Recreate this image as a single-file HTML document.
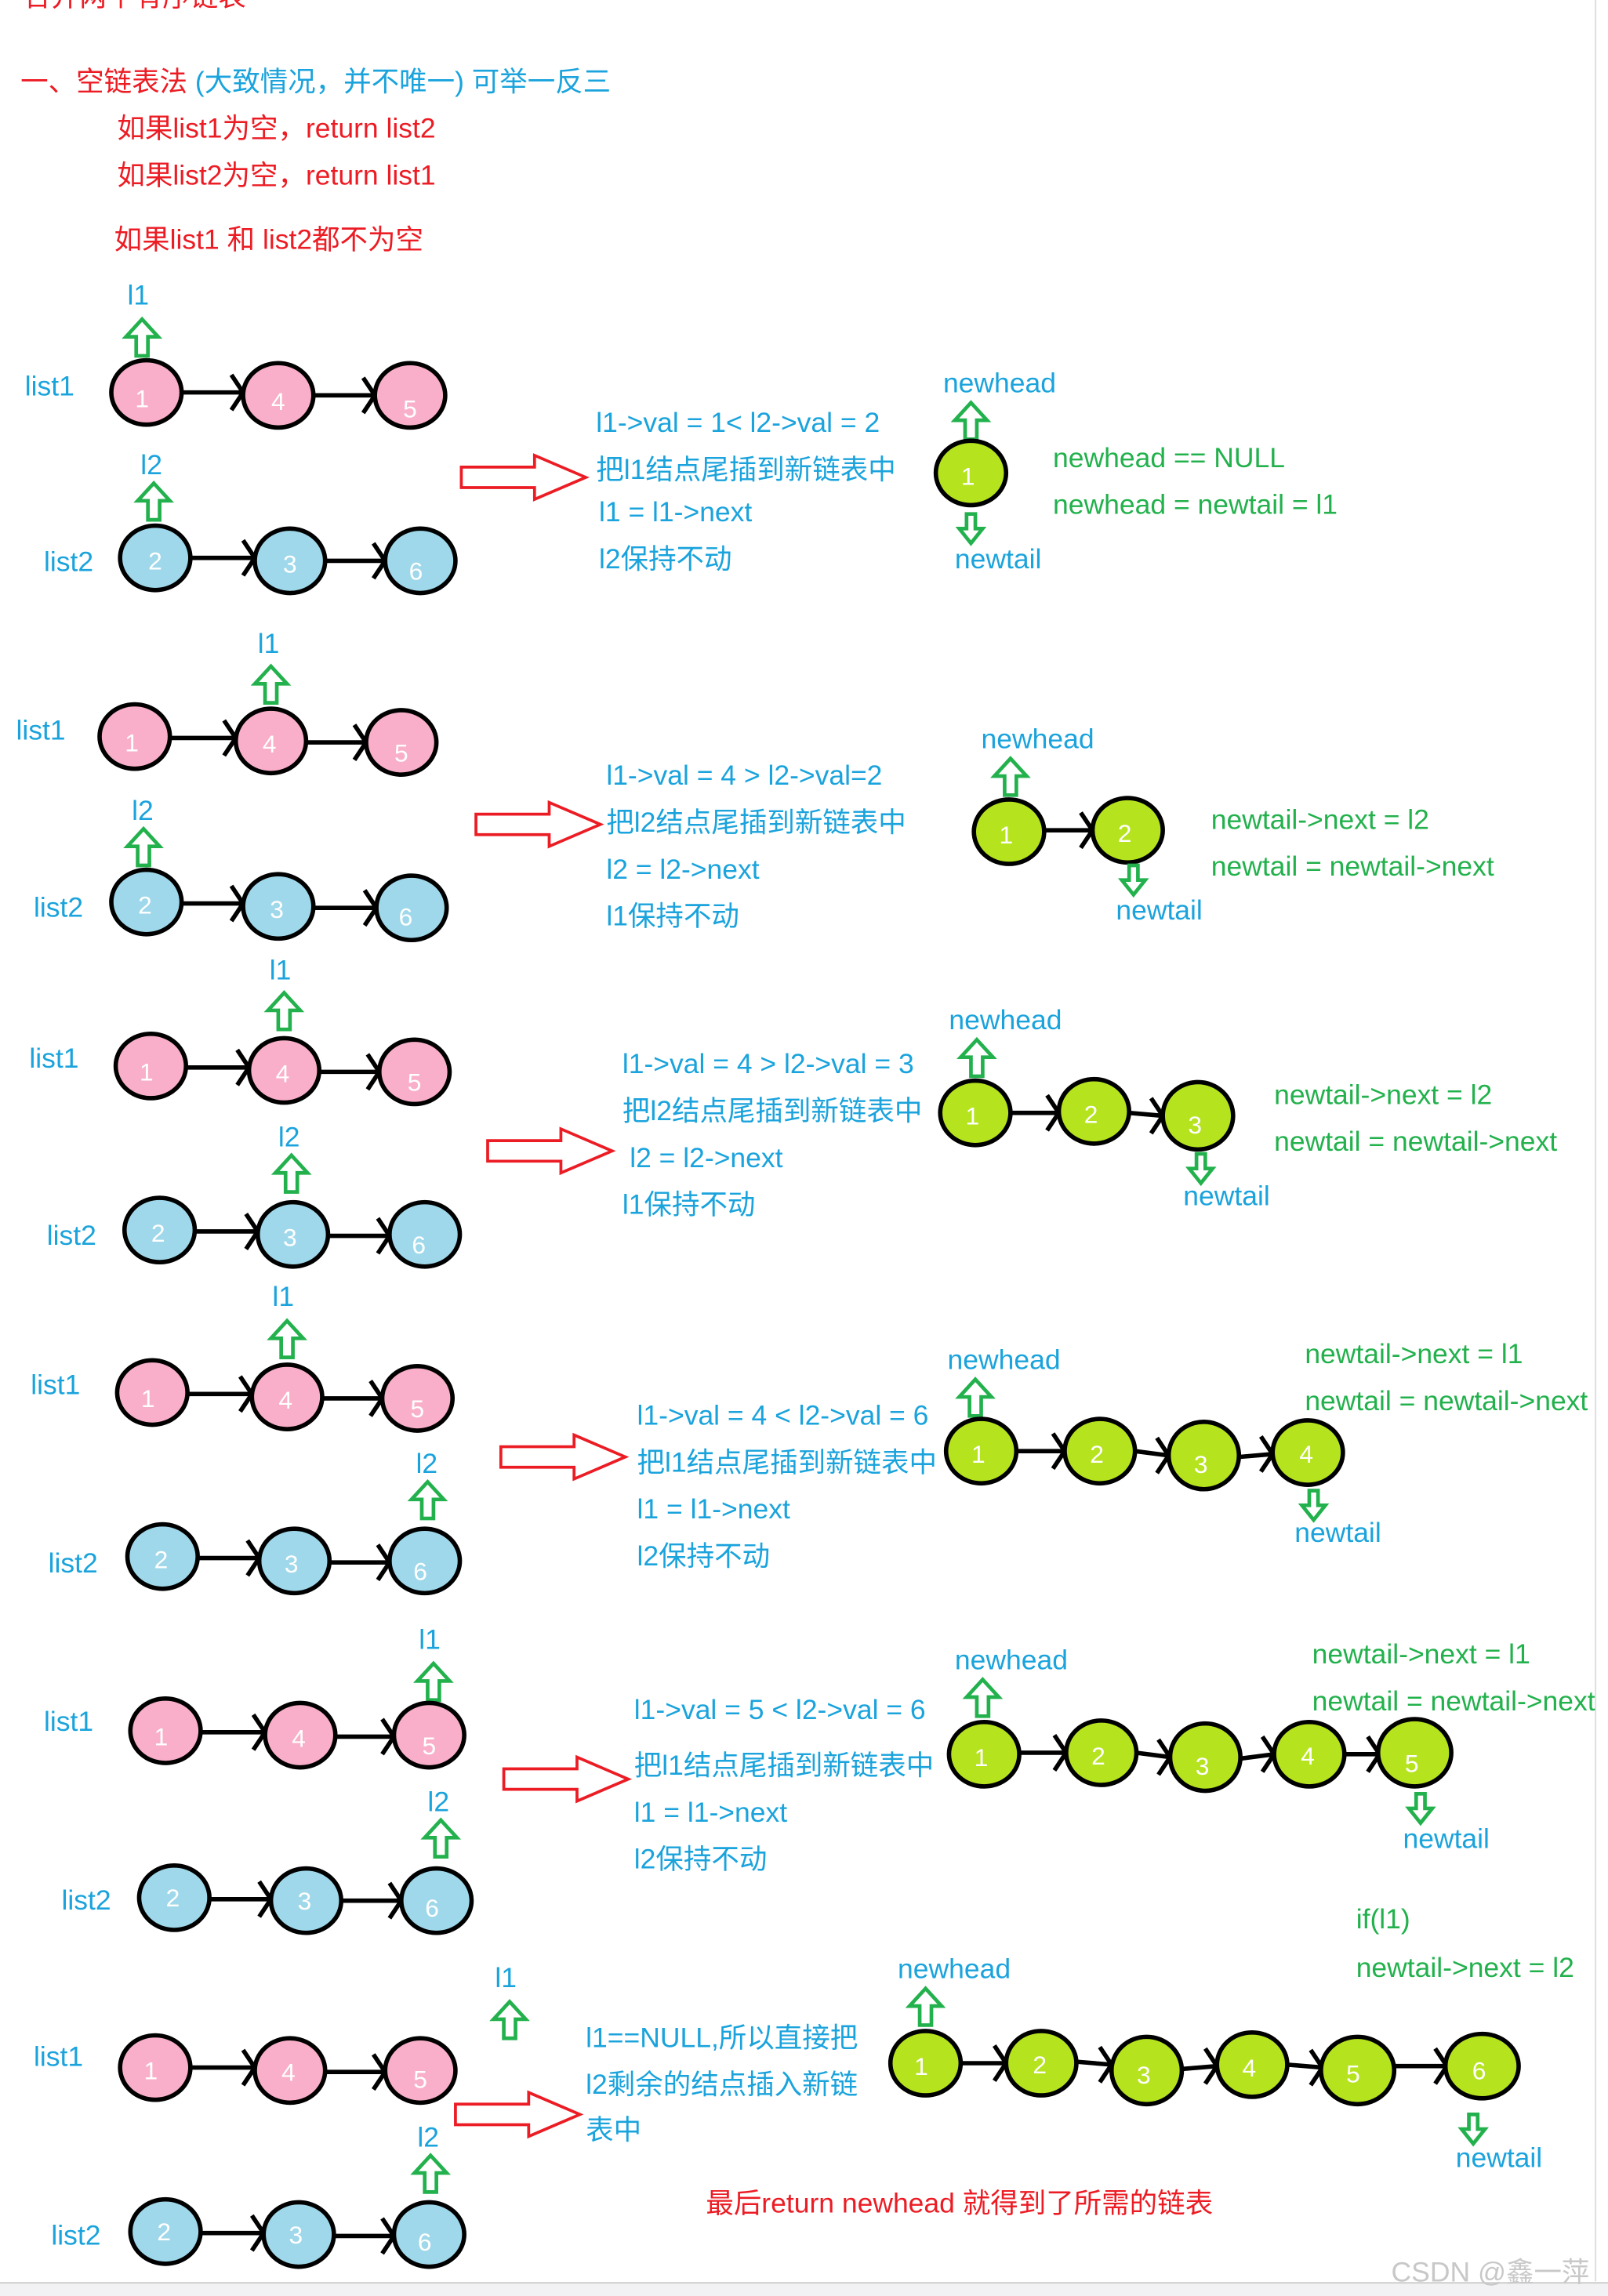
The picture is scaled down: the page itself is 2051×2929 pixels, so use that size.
<!DOCTYPE html>
<html><head><meta charset="utf-8"><style>
html,body{margin:0;padding:0;background:#fff;width:2051px;height:2929px;overflow:hidden}
svg{display:block}
text{font-family:"Liberation Sans","Noto Sans CJK SC",sans-serif;font-size:19px}
.b{fill:#1aa3dc}.r{fill:#ec1c24}.g{fill:#22b14c}
.nt{fill:#fff;font-size:17px;text-anchor:middle}
.pk{fill:#f9afc9;stroke:#000;stroke-width:3}
.bl{fill:#9fd8ea;stroke:#000;stroke-width:3}
.gr{fill:#b5e31e;stroke:#000;stroke-width:3}
.ln{stroke:#000;stroke-width:3;fill:none}
.ga{fill:none;stroke:#22b14c;stroke-width:2.5}
.ra{fill:none;stroke:#ec1c24;stroke-width:2}
</style></head><body>
<svg width="2051" height="2929" viewBox="0 0 1098 1568" preserveAspectRatio="none">
<defs>
<path id="up" d="M0,0 L11,12 L4,12 L4,25 L-4,25 L-4,12 L-11,12 Z" class="ga"/>
<path id="dn" d="M-3,0 L3,0 L3,10 L8,10 L0,20 L-8,10 L-3,10 Z" class="ga"/>
<path id="ra" d="M0,-7 L50,-7 L50,-15 L85,0 L50,15 L50,7 L0,7 Z" class="ra"/>
<path id="ch" d="M-8,-12 L0,0 L-8,12" class="ln"/>
</defs>
<rect x="1089" y="0" width="1" height="1558" fill="#ddd"/>
<rect x="0" y="1559" width="1098" height="9" fill="#f2f2f4"/>
<line x1="0" y1="1559" x2="1098" y2="1559" stroke="#ccc"/>
<text x="16" y="4" class="r" font-size="20">合并两个有序链表</text>
<text x="14" y="62" font-size="20"><tspan class="r">一、空链表法 </tspan><tspan class="b">(大致情况，并不唯一) 可举一反三</tspan></text>
<text x="80" y="94" class="r">如果list1为空，return list2</text>
<text x="80" y="126" class="r">如果list2为空，return list1</text>
<text x="78" y="170" class="r">如果list1 和 list2都不为空</text>

<!-- Panel 1 -->
<text x="87" y="208" class="b">l1</text><use href="#up" x="97" y="218"/>
<text x="17" y="270" class="b">list1</text>
<line x1="124" y1="268" x2="166" y2="268" class="ln"/><use href="#ch" x="166" y="268"/>
<line x1="214" y1="270" x2="256" y2="270" class="ln"/><use href="#ch" x="256" y="270"/>
<ellipse cx="100" cy="268" rx="24" ry="22" class="pk"/><text x="97" y="278" class="nt">1</text>
<ellipse cx="190" cy="270" rx="24" ry="22" class="pk"/><text x="190" y="280" class="nt">4</text>
<ellipse cx="280" cy="270" rx="24" ry="22" class="pk"/><text x="280" y="285" class="nt">5</text>
<text x="96" y="324" class="b">l2</text><use href="#up" x="105" y="330"/>
<text x="30" y="390" class="b">list2</text>
<line x1="130" y1="381" x2="174" y2="381" class="ln"/><use href="#ch" x="174" y="381"/>
<line x1="222" y1="383" x2="263" y2="383" class="ln"/><use href="#ch" x="263" y="383"/>
<ellipse cx="106" cy="381" rx="24" ry="22" class="bl"/><text x="106" y="389" class="nt">2</text>
<ellipse cx="198" cy="383" rx="24" ry="22" class="bl"/><text x="198" y="391" class="nt">3</text>
<ellipse cx="287" cy="383" rx="24" ry="22" class="bl"/><text x="284" y="396" class="nt">6</text>
<use href="#ra" x="315" y="326"/>
<text x="407" y="295" class="b">l1-&gt;val = 1&lt; l2-&gt;val = 2</text>
<text x="407" y="327" class="b">把l1结点尾插到新链表中</text>
<text x="409" y="356" class="b">l1 = l1-&gt;next</text>
<text x="409" y="388" class="b">l2保持不动</text>
<text x="644" y="268" class="b">newhead</text><use href="#up" x="663" y="275"/>
<ellipse cx="663" cy="323" rx="24" ry="22" class="gr"/><text x="661" y="331" class="nt">1</text>
<use href="#dn" x="663" y="351"/>
<text x="652" y="388" class="b">newtail</text>
<text x="719" y="319" class="g">newhead == NULL</text>
<text x="719" y="351" class="g">newhead = newtail = l1</text>

<!-- Panel 2 -->
<text x="176" y="446" class="b">l1</text><use href="#up" x="185" y="455"/>
<text x="11" y="505" class="b">list1</text>
<line x1="116" y1="504" x2="161" y2="504" class="ln"/><use href="#ch" x="161" y="504"/>
<line x1="209" y1="507" x2="250" y2="507" class="ln"/><use href="#ch" x="250" y="507"/>
<ellipse cx="92" cy="503" rx="24" ry="22" class="pk"/><text x="90" y="513" class="nt">1</text>
<ellipse cx="185" cy="506" rx="24" ry="22" class="pk"/><text x="184" y="514" class="nt">4</text>
<ellipse cx="274" cy="507" rx="24" ry="22" class="pk"/><text x="274" y="520" class="nt">5</text>
<text x="90" y="560" class="b">l2</text><use href="#up" x="98" y="566"/>
<text x="23" y="626" class="b">list2</text>
<line x1="124" y1="617" x2="166" y2="617" class="ln"/><use href="#ch" x="166" y="617"/>
<line x1="214" y1="620" x2="257" y2="620" class="ln"/><use href="#ch" x="257" y="620"/>
<ellipse cx="100" cy="616" rx="24" ry="22" class="bl"/><text x="99" y="624" class="nt">2</text>
<ellipse cx="190" cy="619" rx="24" ry="22" class="bl"/><text x="189" y="627" class="nt">3</text>
<ellipse cx="281" cy="620" rx="24" ry="22" class="bl"/><text x="277" y="632" class="nt">6</text>
<use href="#ra" x="325" y="563"/>
<text x="414" y="536" class="b">l1-&gt;val = 4 &gt; l2-&gt;val=2</text>
<text x="414" y="568" class="b">把l2结点尾插到新链表中</text>
<text x="414" y="600" class="b">l2 = l2-&gt;next</text>
<text x="414" y="632" class="b">l1保持不动</text>
<text x="670" y="511" class="b">newhead</text><use href="#up" x="690" y="518"/>
<line x1="713" y1="567" x2="746" y2="567" class="ln"/><use href="#ch" x="746" y="567"/>
<ellipse cx="689" cy="568" rx="24" ry="22" class="gr"/><text x="687" y="576" class="nt">1</text>
<ellipse cx="770" cy="567" rx="24" ry="22" class="gr"/><text x="768" y="575" class="nt">2</text>
<use href="#dn" x="774" y="591"/>
<text x="762" y="628" class="b">newtail</text>
<text x="827" y="566" class="g">newtail-&gt;next = l2</text>
<text x="827" y="598" class="g">newtail = newtail-&gt;next</text>

<!-- Panel 3 -->
<text x="184" y="669" class="b">l1</text><use href="#up" x="194" y="678"/>
<text x="20" y="729" class="b">list1</text>
<line x1="127" y1="729" x2="170" y2="729" class="ln"/><use href="#ch" x="170" y="729"/>
<line x1="218" y1="732" x2="259" y2="732" class="ln"/><use href="#ch" x="259" y="732"/>
<ellipse cx="103" cy="728" rx="24" ry="22" class="pk"/><text x="100" y="738" class="nt">1</text>
<ellipse cx="194" cy="731" rx="24" ry="22" class="pk"/><text x="193" y="739" class="nt">4</text>
<ellipse cx="283" cy="732" rx="24" ry="22" class="pk"/><text x="283" y="745" class="nt">5</text>
<text x="190" y="783" class="b">l2</text><use href="#up" x="199" y="789"/>
<text x="32" y="850" class="b">list2</text>
<line x1="133" y1="841" x2="176" y2="841" class="ln"/><use href="#ch" x="176" y="841"/>
<line x1="224" y1="844" x2="266" y2="844" class="ln"/><use href="#ch" x="266" y="844"/>
<ellipse cx="109" cy="840" rx="24" ry="22" class="bl"/><text x="108" y="848" class="nt">2</text>
<ellipse cx="200" cy="843" rx="24" ry="22" class="bl"/><text x="198" y="851" class="nt">3</text>
<ellipse cx="290" cy="843" rx="24" ry="22" class="bl"/><text x="286" y="856" class="nt">6</text>
<use href="#ra" x="333" y="786"/>
<text x="425" y="733" class="b">l1-&gt;val = 4 &gt; l2-&gt;val = 3</text>
<text x="425" y="765" class="b">把l2结点尾插到新链表中</text>
<text x="430" y="797" class="b">l2 = l2-&gt;next</text>
<text x="425" y="829" class="b">l1保持不动</text>
<text x="648" y="703" class="b">newhead</text><use href="#up" x="667" y="710"/>
<line x1="690" y1="760" x2="723" y2="760" class="ln"/><use href="#ch" x="723" y="760"/>
<line x1="771" y1="760" x2="794" y2="762" class="ln"/><use href="#ch" x="794" y="762"/>
<ellipse cx="666" cy="760" rx="24" ry="22" class="gr"/><text x="664" y="768" class="nt">1</text>
<ellipse cx="747" cy="759" rx="24" ry="22" class="gr"/><text x="745" y="767" class="nt">2</text>
<ellipse cx="818" cy="762" rx="24" ry="23" class="gr"/><text x="816" y="774" class="nt">3</text>
<use href="#dn" x="820" y="788"/>
<text x="808" y="823" class="b">newtail</text>
<text x="870" y="754" class="g">newtail-&gt;next = l2</text>
<text x="870" y="786" class="g">newtail = newtail-&gt;next</text>

<!-- Panel 4 -->
<text x="186" y="892" class="b">l1</text><use href="#up" x="196" y="902"/>
<text x="21" y="952" class="b">list1</text>
<line x1="128" y1="952" x2="172" y2="952" class="ln"/><use href="#ch" x="172" y="952"/>
<line x1="220" y1="955" x2="261" y2="955" class="ln"/><use href="#ch" x="261" y="955"/>
<ellipse cx="104" cy="951" rx="24" ry="22" class="pk"/><text x="101" y="961" class="nt">1</text>
<ellipse cx="196" cy="954" rx="24" ry="22" class="pk"/><text x="195" y="962" class="nt">4</text>
<ellipse cx="285" cy="955" rx="24" ry="22" class="pk"/><text x="285" y="968" class="nt">5</text>
<text x="284" y="1006" class="b">l2</text><use href="#up" x="292" y="1012"/>
<text x="33" y="1074" class="b">list2</text>
<line x1="135" y1="1064" x2="177" y2="1064" class="ln"/><use href="#ch" x="177" y="1064"/>
<line x1="225" y1="1067" x2="266" y2="1067" class="ln"/><use href="#ch" x="266" y="1067"/>
<ellipse cx="111" cy="1063" rx="24" ry="22" class="bl"/><text x="110" y="1071" class="nt">2</text>
<ellipse cx="201" cy="1066" rx="24" ry="22" class="bl"/><text x="199" y="1074" class="nt">3</text>
<ellipse cx="290" cy="1066" rx="24" ry="22" class="bl"/><text x="287" y="1079" class="nt">6</text>
<use href="#ra" x="342" y="995"/>
<text x="435" y="973" class="b">l1-&gt;val = 4 &lt; l2-&gt;val = 6</text>
<text x="435" y="1005" class="b">把l1结点尾插到新链表中</text>
<text x="435" y="1037" class="b">l1 = l1-&gt;next</text>
<text x="435" y="1069" class="b">l2保持不动</text>
<text x="647" y="935" class="b">newhead</text><use href="#up" x="666" y="942"/>
<line x1="694" y1="991" x2="727" y2="991" class="ln"/><use href="#ch" x="727" y="991"/>
<line x1="775" y1="991" x2="798" y2="994" class="ln"/><use href="#ch" x="798" y="994"/>
<line x1="846" y1="995" x2="869" y2="993" class="ln"/><use href="#ch" x="869" y="993"/>
<ellipse cx="670" cy="991" rx="24" ry="22" class="gr"/><text x="668" y="999" class="nt">1</text>
<ellipse cx="751" cy="991" rx="24" ry="22" class="gr"/><text x="749" y="999" class="nt">2</text>
<ellipse cx="822" cy="994" rx="24" ry="23" class="gr"/><text x="820" y="1006" class="nt">3</text>
<ellipse cx="893" cy="992" rx="24" ry="22" class="gr"/><text x="892" y="999" class="nt">4</text>
<use href="#dn" x="897" y="1018"/>
<text x="884" y="1053" class="b">newtail</text>
<text x="891" y="931" class="g">newtail-&gt;next = l1</text>
<text x="891" y="963" class="g">newtail = newtail-&gt;next</text>

<!-- Panel 5 -->
<text x="286" y="1126" class="b">l1</text><use href="#up" x="296" y="1136"/>
<text x="30" y="1182" class="b">list1</text>
<line x1="137" y1="1183" x2="181" y2="1183" class="ln"/><use href="#ch" x="181" y="1183"/>
<line x1="229" y1="1186" x2="269" y2="1186" class="ln"/><use href="#ch" x="269" y="1186"/>
<ellipse cx="113" cy="1182" rx="24" ry="22" class="pk"/><text x="110" y="1192" class="nt">1</text>
<ellipse cx="205" cy="1185" rx="24" ry="22" class="pk"/><text x="204" y="1193" class="nt">4</text>
<ellipse cx="293" cy="1185" rx="24" ry="22" class="pk"/><text x="293" y="1198" class="nt">5</text>
<text x="292" y="1237" class="b">l2</text><use href="#up" x="301" y="1243"/>
<text x="42" y="1304" class="b">list2</text>
<line x1="143" y1="1297" x2="185" y2="1297" class="ln"/><use href="#ch" x="185" y="1297"/>
<line x1="233" y1="1298" x2="274" y2="1298" class="ln"/><use href="#ch" x="274" y="1298"/>
<ellipse cx="119" cy="1296" rx="24" ry="22" class="bl"/><text x="118" y="1302" class="nt">2</text>
<ellipse cx="209" cy="1298" rx="24" ry="22" class="bl"/><text x="208" y="1304" class="nt">3</text>
<ellipse cx="298" cy="1298" rx="24" ry="22" class="bl"/><text x="295" y="1309" class="nt">6</text>
<use href="#ra" x="344" y="1215"/>
<text x="433" y="1174" class="b">l1-&gt;val = 5 &lt; l2-&gt;val = 6</text>
<text x="433" y="1212" class="b">把l1结点尾插到新链表中</text>
<text x="433" y="1244" class="b">l1 = l1-&gt;next</text>
<text x="433" y="1276" class="b">l2保持不动</text>
<text x="652" y="1140" class="b">newhead</text><use href="#up" x="671" y="1147"/>
<line x1="696" y1="1197" x2="728" y2="1197" class="ln"/><use href="#ch" x="728" y="1197"/>
<line x1="776" y1="1197" x2="799" y2="1200" class="ln"/><use href="#ch" x="799" y="1200"/>
<line x1="847" y1="1201" x2="870" y2="1198" class="ln"/><use href="#ch" x="870" y="1198"/>
<line x1="918" y1="1198" x2="942" y2="1198" class="ln"/><use href="#ch" x="942" y="1198"/>
<ellipse cx="672" cy="1198" rx="24" ry="22" class="gr"/><text x="670" y="1206" class="nt">1</text>
<ellipse cx="752" cy="1197" rx="24" ry="22" class="gr"/><text x="750" y="1205" class="nt">2</text>
<ellipse cx="823" cy="1200" rx="24" ry="23" class="gr"/><text x="821" y="1212" class="nt">3</text>
<ellipse cx="894" cy="1198" rx="24" ry="22" class="gr"/><text x="893" y="1205" class="nt">4</text>
<ellipse cx="966" cy="1197" rx="25" ry="23" class="gr"/><text x="964" y="1210" class="nt">5</text>
<use href="#dn" x="970" y="1225"/>
<text x="958" y="1262" class="b">newtail</text>
<text x="896" y="1136" class="g">newtail-&gt;next = l1</text>
<text x="896" y="1168" class="g">newtail = newtail-&gt;next</text>

<!-- Panel 6 -->
<text x="338" y="1357" class="b">l1</text><use href="#up" x="348" y="1367"/>
<text x="23" y="1411" class="b">list1</text>
<line x1="130" y1="1412" x2="174" y2="1412" class="ln"/><use href="#ch" x="174" y="1412"/>
<line x1="222" y1="1415" x2="263" y2="1415" class="ln"/><use href="#ch" x="263" y="1415"/>
<ellipse cx="106" cy="1412" rx="24" ry="22" class="pk"/><text x="103" y="1420" class="nt">1</text>
<ellipse cx="198" cy="1414" rx="24" ry="22" class="pk"/><text x="197" y="1421" class="nt">4</text>
<ellipse cx="287" cy="1414" rx="24" ry="22" class="pk"/><text x="287" y="1426" class="nt">5</text>
<text x="285" y="1466" class="b">l2</text><use href="#up" x="294" y="1472"/>
<text x="35" y="1533" class="b">list2</text>
<line x1="137" y1="1525" x2="180" y2="1525" class="ln"/><use href="#ch" x="180" y="1525"/>
<line x1="228" y1="1527" x2="269" y2="1527" class="ln"/><use href="#ch" x="269" y="1527"/>
<ellipse cx="113" cy="1524" rx="24" ry="22" class="bl"/><text x="112" y="1530" class="nt">2</text>
<ellipse cx="204" cy="1526" rx="24" ry="22" class="bl"/><text x="202" y="1532" class="nt">3</text>
<ellipse cx="293" cy="1526" rx="24" ry="22" class="bl"/><text x="290" y="1537" class="nt">6</text>
<use href="#ra" x="311" y="1444"/>
<text x="400" y="1398" class="b">l1==NULL,所以直接把</text>
<text x="400" y="1430" class="b">l2剩余的结点插入新链</text>
<text x="400" y="1461" class="b">表中</text>
<text x="613" y="1351" class="b">newhead</text><use href="#up" x="632" y="1358"/>
<line x1="656" y1="1409" x2="687" y2="1409" class="ln"/><use href="#ch" x="687" y="1409"/>
<line x1="735" y1="1408" x2="759" y2="1410" class="ln"/><use href="#ch" x="759" y="1410"/>
<line x1="807" y1="1413" x2="831" y2="1411" class="ln"/><use href="#ch" x="831" y="1411"/>
<line x1="879" y1="1410" x2="903" y2="1412" class="ln"/><use href="#ch" x="903" y="1412"/>
<line x1="952" y1="1411" x2="988" y2="1411" class="ln"/><use href="#ch" x="988" y="1411"/>
<ellipse cx="632" cy="1409" rx="24" ry="22" class="gr"/><text x="629" y="1417" class="nt">1</text>
<ellipse cx="711" cy="1409" rx="24" ry="22" class="gr"/><text x="710" y="1416" class="nt">2</text>
<ellipse cx="783" cy="1414" rx="24" ry="23" class="gr"/><text x="781" y="1423" class="nt">3</text>
<ellipse cx="855" cy="1410" rx="24" ry="22" class="gr"/><text x="853" y="1418" class="nt">4</text>
<ellipse cx="927" cy="1414" rx="25" ry="23" class="gr"/><text x="924" y="1422" class="nt">5</text>
<ellipse cx="1012" cy="1411" rx="25" ry="22" class="gr"/><text x="1010" y="1420" class="nt">6</text>
<use href="#dn" x="1006" y="1444"/>
<text x="994" y="1480" class="b">newtail</text>
<text x="926" y="1317" class="g">if(l1)</text>
<text x="926" y="1350" class="g">newtail-&gt;next = l2</text>
<text x="482" y="1511" class="r">最后return newhead 就得到了所需的链表</text>
<text x="950" y="1558" fill="#c8c8c8" font-size="20">CSDN @鑫一萍</text>
</svg>
</body></html>
